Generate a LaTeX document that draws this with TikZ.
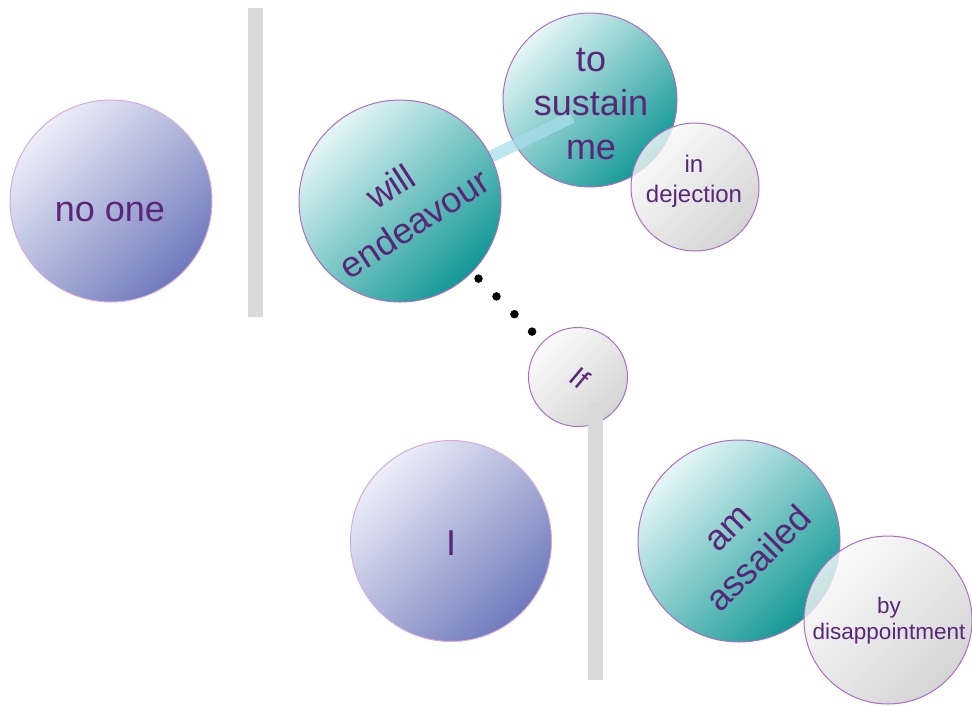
\documentclass[tikz,border=0pt]{standalone}
\usepackage{fontspec}
\setmainfont{Liberation Sans}
\usetikzlibrary{calc}
\definecolor{txt}{RGB}{90,38,122}
\definecolor{pLight}{RGB}{236,238,248}
\definecolor{pDark}{RGB}{112,122,188}
\definecolor{tLight}{RGB}{230,246,247}
\definecolor{tDark}{RGB}{18,152,150}
\definecolor{gLight}{RGB}{250,250,250}
\definecolor{gDark}{RGB}{202,202,202}
\definecolor{bdr}{RGB}{170,110,196}
\definecolor{bdrLight}{RGB}{214,170,222}
\definecolor{barc}{RGB}{217,217,217}
\definecolor{bandc}{RGB}{168,221,233}
\begin{document}
\begin{tikzpicture}[x=1pt,y=-1pt,
  bubble/.style={circle, inner sep=0pt, minimum size=#1, line width=1pt},
  purplebub/.style={bubble=#1, draw=bdrLight, top color=pLight, bottom color=pDark, shading angle=45},
  tealbub/.style={bubble=#1, draw=bdr, top color=tLight, bottom color=tDark, shading angle=45},
  graybub/.style={bubble=#1, draw=bdr, top color=gLight, bottom color=gDark, shading angle=45, fill opacity=0.8},
  lbl/.style={text=txt, align=center, inner sep=0pt},
  bigtxt/.style={font=\fontsize{36}{44}\selectfont},
  midtxt/.style={font=\fontsize{24}{30}\selectfont},
  smalltxt/.style={font=\fontsize{22.5}{26}\selectfont},
  barstyle/.style={fill=barc, draw=none},
  bandline/.style={draw=bandc, line width=12pt, opacity=0.75},
  dotb/.style={circle, fill=black, inner sep=0pt, minimum size=8.5pt}
]
\useasboundingbox (0,0) rectangle (972,705);

% left part
\node[purplebub=202pt] (noone) at (111,201) {};
\fill[barstyle] (248,8) rectangle (263,317);

% top cluster
\node[tealbub=174pt] (sus) at (590,100) {};
\coordinate (wec) at (400,201);
\coordinate (bandend) at (572,117);
\draw[bandline] (wec) -- (bandend);
\node[tealbub=202pt] (we) at (wec) {};
\node[graybub=128pt] (dej) at (695,187) {};

% If
\node[graybub=99pt] (if) at (578,377) {};
\fill[barstyle] (588,403) rectangle (603,680);
\path (we.center) -- (if.center)
  node[dotb, pos=0.441] (d1) {}
  node[dotb, pos=0.542] (d2) {}
  node[dotb, pos=0.643] (d3) {}
  node[dotb, pos=0.742] (d4) {};

% bottom cluster
\node[purplebub=201pt] (I) at (451,541) {};
\node[tealbub=202pt] (am) at (739,541) {};
\node[graybub=168pt] (dis) at (888,620) {};

% labels
\node[lbl, bigtxt] (tnoone) at (110,212) {no one};
\node[lbl, bigtxt, rotate=33] (twe) at (402,205) {will\\endeavour};
\node[lbl, bigtxt] (tsus) at (591,104) {to\\sustain\\me};
\node[lbl, midtxt] (tdej) at (694,181) {in\\dejection};
\node[lbl, font=\fontsize{28}{32}\selectfont, rotate=-40] (tif) at (580,378) {If};
\node[lbl, bigtxt] (tI) at (451,543) {I};
\node[lbl, bigtxt, rotate=45] (tam) at (745,545) {am\\assailed};
\node[lbl, smalltxt] (tdis) at (889,621) {by\\disappointment};
\end{tikzpicture}
\end{document}
